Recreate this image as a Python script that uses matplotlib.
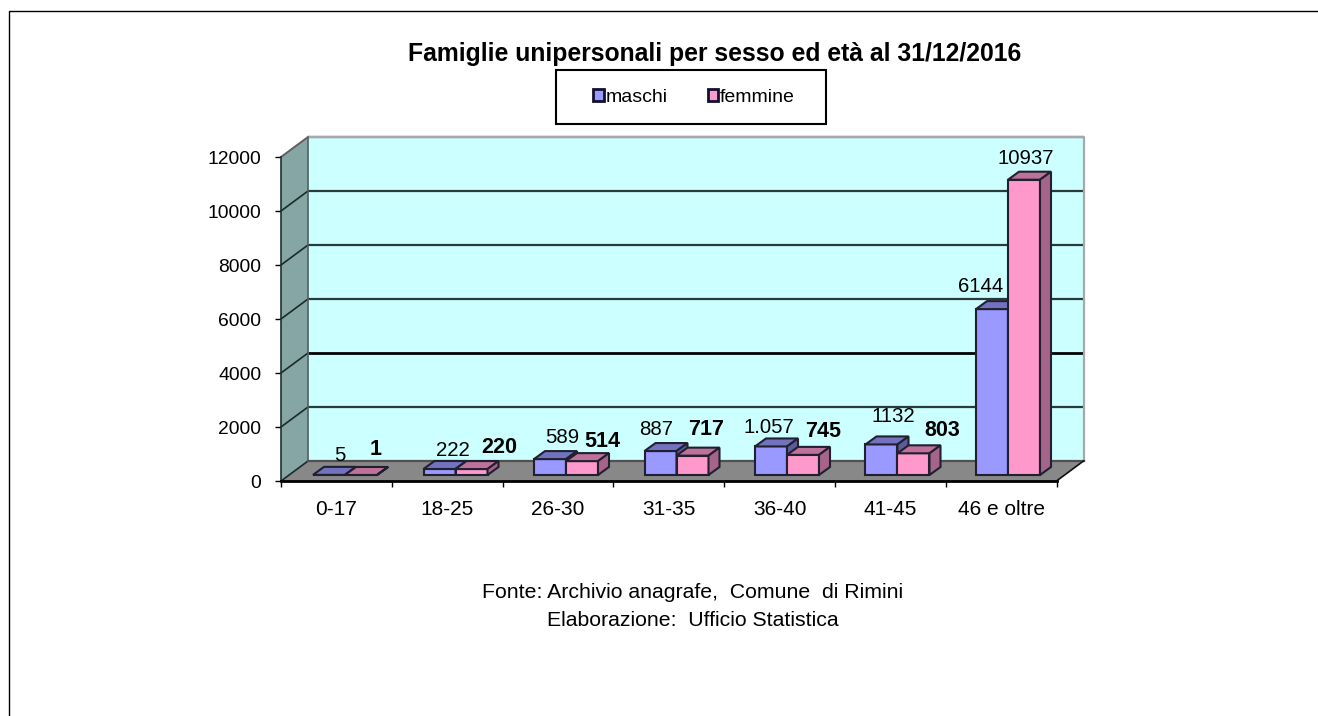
import matplotlib
matplotlib.use('Agg')
import matplotlib.pyplot as plt
from matplotlib.patches import Patch, Rectangle

plt.rcParams['font.family'] = ['Liberation Sans', 'DejaVu Sans']

categories = ['0-17', '18-25', '26-30', '31-35', '36-40', '41-45', '46 e oltre']
maschi = [5, 222, 589, 887, 1057, 1132, 6144]
femmine = [1, 220, 514, 717, 745, 803, 10937]
maschi_labels = ['5', '222', '589', '887', '1.057', '1132', '6144']
femmine_labels = ['1', '220', '514', '717', '745', '803', '10937']
yticks = [0, 2000, 4000, 6000, 8000, 10000, 12000]

W, H = 1318, 716
FONT = 13.9

fig = plt.figure(figsize=(W/100, H/100), dpi=100)
# front plane of the fake 3D box
left, right, top, bottom = 281, 1056.5, 157, 481
ax = fig.add_axes([left/W, 1-bottom/H, (right-left)/W, (bottom-top)/H])
ax.set_xlim(0, 7)
ax.set_ylim(0, 12000)

px_x = 7/(right-left)  # category units per pixel
px_y = 12000/(bottom-top)  # value units per pixel

# depth of the box and of the bars
dx, dy = 27*px_x, 20*px_y
bar_dx, bar_dy = 11*px_x, 8*px_y
bar_w = 32*px_x
bar_off = 32*px_x
bar_base = 6*px_y
bar_step = 110.5*px_x

# walls and floor
ax.fill([dx, 7+dx, 7+dx, dx], [dy, dy, 12000+dy, 12000+dy], color='#CCFFFF', lw=0, clip_on=False, zorder=1)
ax.fill([0, dx, dx, 0], [0, dy, 12000+dy, 12000], color='#86A6A6', lw=0, clip_on=False, zorder=1)
ax.fill([0, 7, 7+dx, dx], [0, 0, dy, dy], color='#888888', lw=0, clip_on=False, zorder=1)

# gridlines on both walls
for v in yticks[1:]:
    lw = 2 if v == 4000 else 1.6
    c = 'black' if v == 4000 else '#2A3A3A'
    ax.plot([dx, 7+dx], [v+dy, v+dy], color=c, lw=lw, clip_on=False, zorder=2, solid_capstyle='butt')
for v in yticks[:-1]:
    ax.plot([0, dx], [v, v+dy], color='#1A2A2A', lw=1.2, clip_on=False, zorder=2)
ax.plot([0, dx], [12000, 12000+dy], color='#606060', lw=1.4, clip_on=False, zorder=2)
ax.plot([dx, 7+dx, 7+dx], [12000+dy, 12000+dy, dy], color='#A8A8A8', lw=1.6, clip_on=False, zorder=2)
ax.plot([dx, dx], [dy, 12000+dy], color='#506060', lw=1.2, clip_on=False, zorder=2)
ax.plot([dx, 7+dx], [dy, dy], color='#505050', lw=1.6, clip_on=False, zorder=2)
ax.plot([7, 7+dx], [0, dy], color='#101010', lw=1.2, clip_on=False, zorder=2)


def draw_bars(values, start, front, top_c, side, z):
    xs = [i*bar_step+start for i in range(len(values))]
    ax.bar(xs, values, bar_w, bottom=bar_base, align='edge', color=front,
           edgecolor='#202030', lw=1.5, clip_on=False, zorder=z)
    for x, v in zip(xs, values):
        y = v+bar_base
        ax.fill([x, x+bar_w, x+bar_w+bar_dx, x+bar_dx], [y, y, y+bar_dy, y+bar_dy],
                facecolor=top_c, edgecolor='#202030', lw=1.5, clip_on=False, zorder=z)
        ax.fill([x+bar_w, x+bar_w+bar_dx, x+bar_w+bar_dx, x+bar_w],
                [bar_base, bar_base+bar_dy, y+bar_dy, y],
                facecolor=side, edgecolor='#202030', lw=1.5, clip_on=False, zorder=z)


draw_bars(maschi, bar_off, '#9999FF', '#7272BF', '#5C5C99', 3)
draw_bars(femmine, bar_off+bar_w, '#FF99CC', '#BF7299', '#A6648A', 4)

# data labels, placed by hand in the original (pixels from the top of each bar)
m_offsets = [(11, 19), (13, 19), (12, 22), (-4, 22), (-2, 19), (12, 28), (-11, 23)]
f_offsets = [(15, 25), (28, 22), (20, 20), (14, 26), (20, 23), (29, 23), (2, 21)]
for i in range(7):
    ax.annotate(maschi_labels[i], (i*bar_step+bar_off+bar_w/2, maschi[i]+bar_base), xytext=m_offsets[i],
                textcoords='offset pixels', ha='center', va='center', fontsize=14.7,
                annotation_clip=False, zorder=6)
    weight = 'normal' if i == 6 else 'bold'
    size = 14.7 if i == 6 else 15.5
    ax.annotate(femmine_labels[i], (i*bar_step+bar_off+bar_w*1.5, femmine[i]+bar_base), xytext=f_offsets[i],
                textcoords='offset pixels', ha='center', va='center', fontsize=size,
                fontweight=weight, annotation_clip=False, zorder=6)

# axes
for s in ['top', 'right']:
    ax.spines[s].set_visible(False)
ax.spines['left'].set_linewidth(1.2)
ax.spines['left'].set_color('#203030')
ax.spines['bottom'].set_linewidth(2)
ax.spines['left'].set_zorder(5)
ax.spines['bottom'].set_zorder(5)
ax.set_yticks(yticks)
ax.set_yticklabels([str(v) for v in yticks])
ax.tick_params(axis='y', length=4.3, width=1, pad=10, labelsize=FONT)
ax.set_xticks(range(8))
ax.set_xticklabels([])
ax.tick_params(axis='x', which='major', length=4.3, width=1)
ax.set_xticks([i+0.5 for i in range(7)], minor=True)
ax.set_xticklabels(categories, minor=True)
ax.tick_params(axis='x', which='minor', length=0, pad=14, labelsize=15)

# title, legend, source notes
fig.text(715/W, 1-54/H, 'Famiglie unipersonali per sesso ed età al 31/12/2016',
         ha='center', va='center', fontsize=17.8, fontweight='bold')
fig.add_artist(Rectangle((555.5/W, 1-124/H), 270/W, 54/H, transform=fig.transFigure,
                         facecolor='white', edgecolor='black', lw=1.5))
handles = [Patch(facecolor='#9999FF', edgecolor='#101030', lw=2, label='maschi'),
           Patch(facecolor='#FF99CC', edgecolor='#101030', lw=2, label='femmine')]
leg = fig.legend(handles=handles, loc='center', bbox_to_anchor=(694/W, 1-97.5/H), ncol=2,
                 fontsize=14, frameon=False, handlelength=0.55, handleheight=0.55,
                 handletextpad=0.1, columnspacing=2.05, borderpad=0, borderaxespad=0)
leg.set_zorder(10)
fig.text(693/W, 1-593/H, 'Fonte: Archivio anagrafe,  Comune  di Rimini', ha='center', va='center', fontsize=15.3)
fig.text(693/W, 1-620/H, 'Elaborazione:  Ufficio Statistica', ha='center', va='center', fontsize=15.3)

# outer chart frame runs off the right and bottom of the image
fig.add_artist(Rectangle((8.5/W, 1-(H+20)/H), (W+20)/W, (H+20-10.5)/H, transform=fig.transFigure,
                         facecolor='none', edgecolor='black', lw=1))

fig.savefig('out.png', dpi=100)
